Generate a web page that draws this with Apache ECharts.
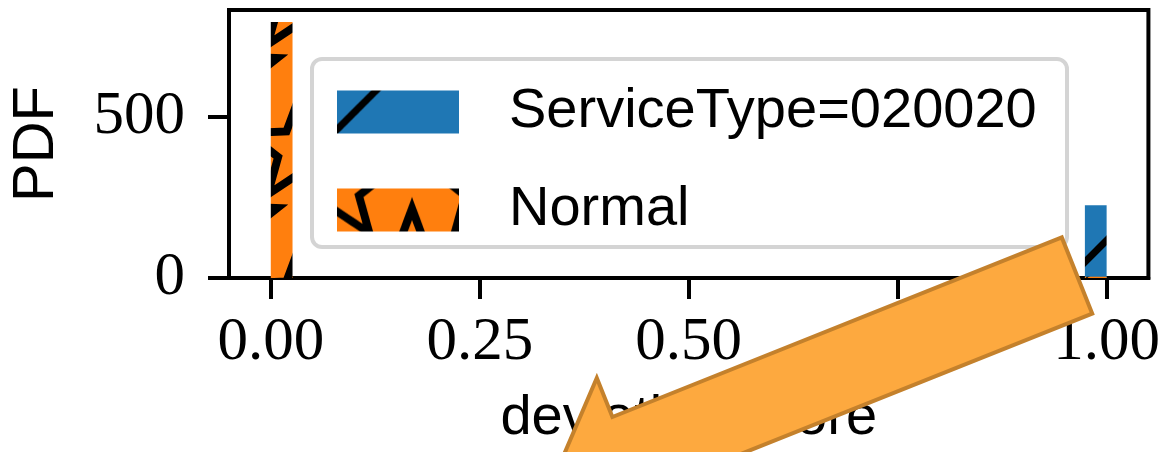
<!DOCTYPE html>
<html><head><meta charset="utf-8">
<script src="https://cdn.jsdelivr.net/npm/echarts@6/dist/echarts.min.js"></script>
<style>html,body{margin:0;padding:0;background:#fff}#chart{width:1163px;height:452px}</style>
</head><body><div id="chart"></div>
<script>
// ---- data ----
const seriesNames = ['ServiceType=020020', 'Normal'];
const serviceBinStart = [0.974];
const serviceBinEnd = [1.0];
const serviceValues = [225];
const normalBinStart = [0.0, 0.974];
const normalBinEnd = [0.026, 1.0];
const normalValues = [793, 4];
const xTicks = [0, 0.25, 0.5, 0.75, 1.0];
const yTicks = [0, 500];
const xLabel = 'deviation score';
const yLabel = 'PDF';

// ---- hatch patterns (style) ----
function lineTile(bg, P, offset) {
  const c = document.createElement('canvas'); c.width = P; c.height = P;
  const g = c.getContext('2d');
  g.fillStyle = bg; g.fillRect(0, 0, P, P);
  g.strokeStyle = '#000'; g.lineWidth = 7;
  for (let k = -2; k <= 3; k++) {
    const s = offset + k * P;
    g.beginPath(); g.moveTo(-P, s + P); g.lineTo(2 * P, s - 2 * P); g.stroke();
  }
  return c;
}
function starTile(bg, W, H, R, r) {
  const c = document.createElement('canvas'); c.width = W; c.height = H;
  const g = c.getContext('2d');
  g.fillStyle = bg; g.fillRect(0, 0, W, H);
  g.strokeStyle = '#000'; g.lineWidth = 8; g.lineJoin = 'miter';
  const centers = [];
  for (let i = -1; i <= 2; i++) for (let j = -1; j <= 2; j++) {
    centers.push([i * W, j * H]);
    centers.push([i * W + W / 2, j * H + H / 2]);
  }
  centers.forEach(([cx, cy]) => {
    g.beginPath();
    for (let k = 0; k < 10; k++) {
      const a = -Math.PI / 2 + k * Math.PI / 5;
      const rr = k % 2 === 0 ? R : r;
      const x = cx + rr * Math.cos(a), y = cy + rr * Math.sin(a);
      if (k === 0) g.moveTo(x, y); else g.lineTo(x, y);
    }
    g.closePath(); g.stroke();
  });
  return c;
}
const BLUE = '#1f77b4', ORANGE = '#ff7f0e';
const bluePattern = { image: lineTile(BLUE, 148, 15), repeat: 'repeat' };
const blueLegendPattern = { image: lineTile(BLUE, 148, 39), repeat: 'repeat' };
const orangePattern = { image: starTile(ORANGE, 150, 150, 55, 23), repeat: 'repeat' };
const orangeLegendPattern = { image: starTile(ORANGE, 150, 150, 55, 23), repeat: 'repeat' };

function renderBin(pattern) {
  return function (params, api) {
    const p0 = api.coord([api.value(0), api.value(2)]);
    const p1 = api.coord([api.value(1), 0]);
    return {
      type: 'rect',
      shape: { x: p0[0], y: p0[1], width: p1[0] - p0[0], height: p1[1] - p0[1] },
      style: { fill: pattern }
    };
  };
}

// ---- arrow annotation geometry ----
const aC = [1077, 275.5], aU = [-0.9285, 0.371], aN = [0.371, 0.9285];
const arrowLocal = [[0, -41], [484, -41], [484, -83], [567, 0], [484, 83], [484, 41], [0, 41]];
const arrowPts = arrowLocal.map(([a, b]) => [aC[0] + a * aU[0] + b * aN[0], aC[1] + a * aU[1] + b * aN[1]]);

const chart = echarts.init(document.getElementById('chart'));
const axisLine = { show: true, onZero: false, lineStyle: { color: '#000', width: 4 } };
const serif = 'Liberation Serif', sans = 'Liberation Sans';
chart.setOption({
  animation: false,
  backgroundColor: '#fff',
  grid: { left: 229, right: 13, top: 10, bottom: 173, show: true, borderColor: '#000', borderWidth: 4, backgroundColor: 'transparent' },
  xAxis: {
    type: 'value', min: -0.05, max: 1.05,
    axisLine: axisLine,
    axisTick: { show: true, customValues: xTicks, length: 21, lineStyle: { color: '#000', width: 4 } },
    axisLabel: { customValues: xTicks, formatter: v => v.toFixed(2), fontFamily: serif, fontSize: 61, color: '#000', margin: 34 },
    splitLine: { show: false },
    name: xLabel, nameLocation: 'middle', nameGap: 113,
    nameTextStyle: { fontFamily: sans, fontSize: 56, color: '#000' }
  },
  yAxis: {
    type: 'value', min: 0, max: 830, interval: 500,
    axisLine: axisLine,
    axisTick: { show: true, customValues: yTicks, length: 21, lineStyle: { color: '#000', width: 4 } },
    axisLabel: { customValues: yTicks, fontFamily: serif, fontSize: 61, color: '#000', margin: 44 },
    splitLine: { show: false },
    name: yLabel, nameLocation: 'middle', nameRotate: 90, nameGap: 163,
    nameTextStyle: { fontFamily: sans, fontSize: 58, color: '#000' }
  },
  legend: {
    orient: 'vertical', left: 337, top: 84, padding: 0,
    itemWidth: 122, itemHeight: 43, itemGap: 42, icon: 'rect',
    textStyle: { fontFamily: sans, fontSize: 56, color: '#000', lineHeight: 43, padding: [0, 0, 0, 45] },
    data: [
      { name: seriesNames[0], itemStyle: { color: blueLegendPattern } },
      { name: seriesNames[1], itemStyle: { color: orangeLegendPattern } }
    ]
  },
  graphic: [
    { type: 'rect', z: 3, shape: { x: 312, y: 59, width: 755, height: 188, r: 10 },
      style: { fill: '#fff', stroke: '#d4d4d4', lineWidth: 4 } },
    { type: 'polygon', z: 100, shape: { points: arrowPts },
      style: { fill: '#FDA93F', stroke: '#C4812C', lineWidth: 4, lineJoin: 'miter' } }
  ],
  series: [
    { type: 'custom', name: seriesNames[0], itemStyle: { color: bluePattern },
      renderItem: renderBin(bluePattern), encode: { x: [0, 1], y: 2 },
      data: serviceBinStart.map((s, i) => [s, serviceBinEnd[i], serviceValues[i]]) },
    { type: 'custom', name: seriesNames[1], itemStyle: { color: orangePattern },
      renderItem: renderBin(orangePattern), encode: { x: [0, 1], y: 2 },
      data: normalBinStart.map((s, i) => [s, normalBinEnd[i], normalValues[i]]) }
  ]
});
</script></body></html>
